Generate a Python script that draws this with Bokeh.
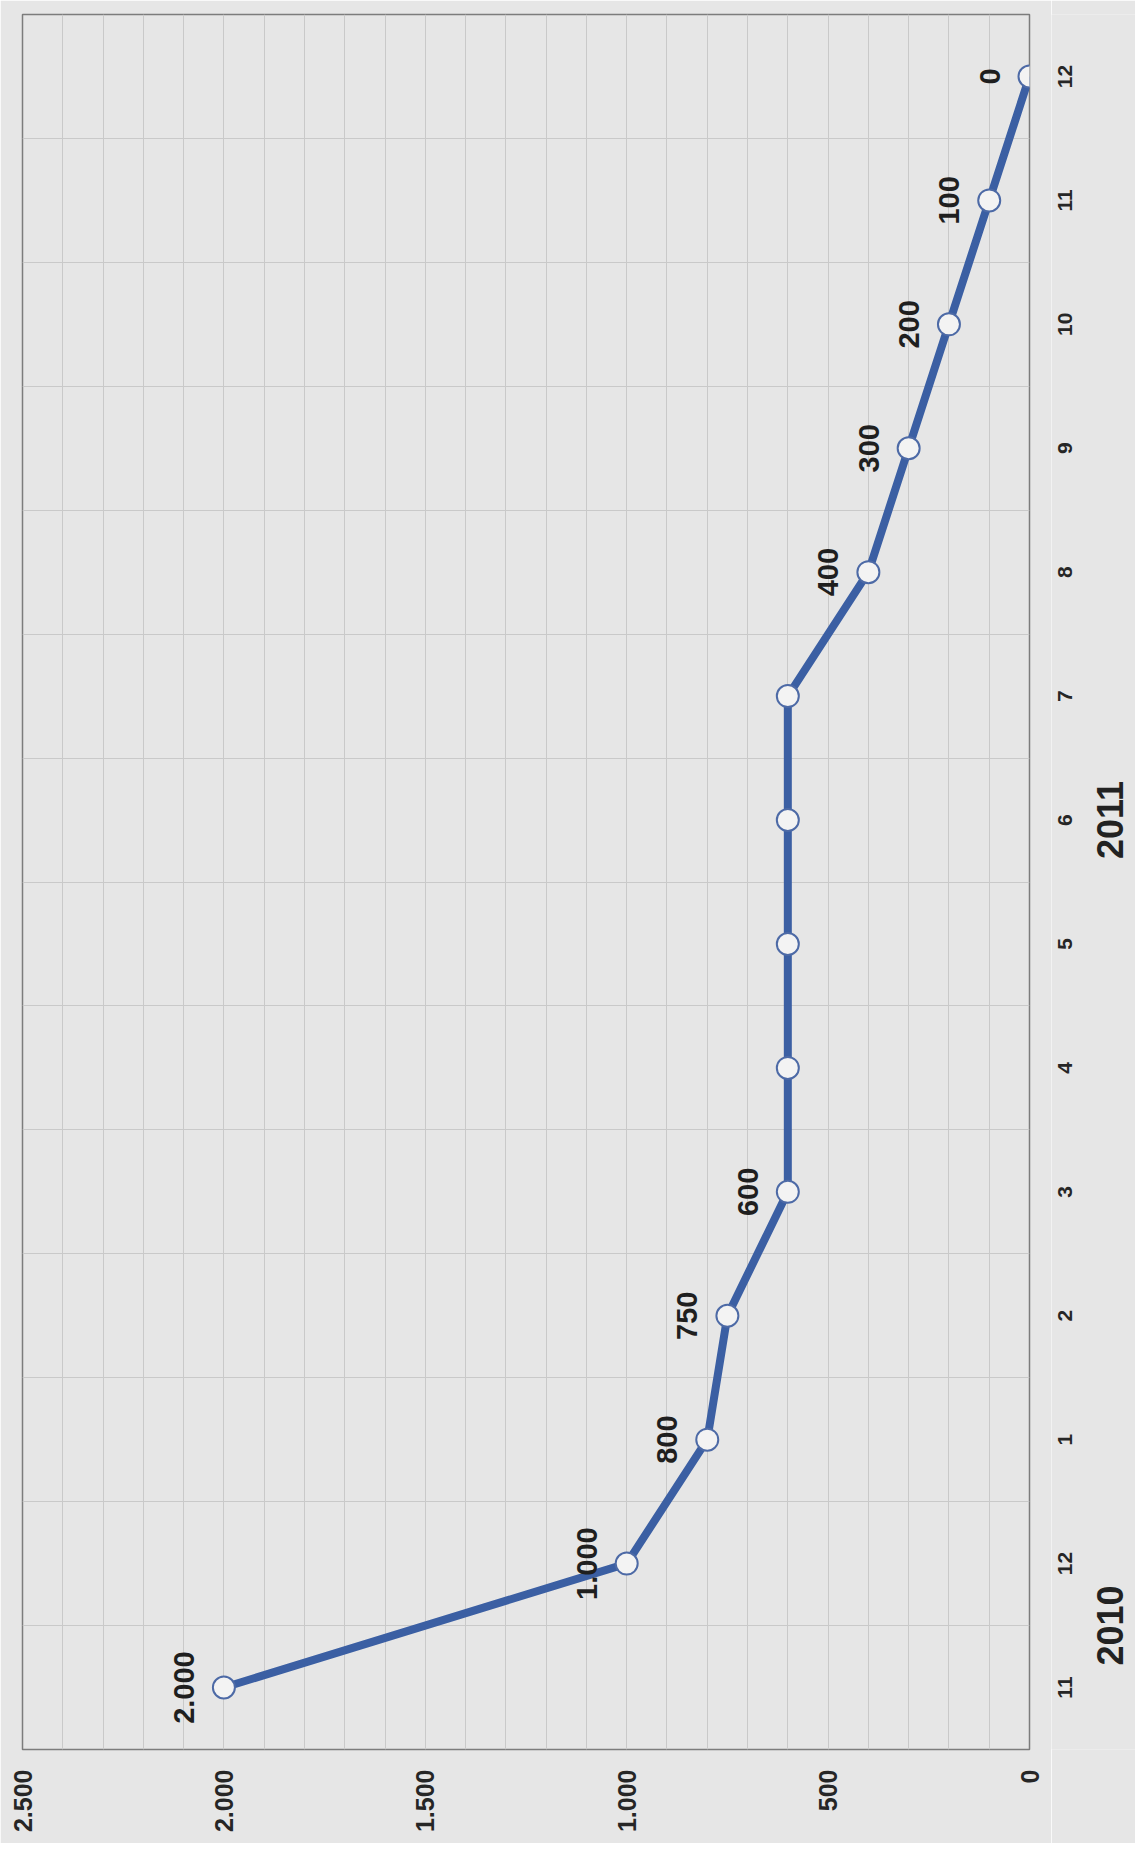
import math
from bokeh.plotting import figure
from bokeh.models import Range1d, FixedTicker, ColumnDataSource
from bokeh.layouts import row
from bokeh.embed import file_html
from bokeh.resources import INLINE
from bokeh.core.properties import value

# ---- data ----
months = ["11", "12", "1", "2", "3", "4", "5", "6", "7", "8", "9", "10", "11", "12"]
month_year = ["2010", "2010"] + ["2011"] * 12
values = [2000, 1000, 800, 750, 600, 600, 600, 600, 600, 400, 300, 200, 100, 0]
point_labels = ["2.000", "1.000", "800", "750", "600", "", "", "", "", "400", "300", "200", "100", "0"]
value_ticks = [0, 500, 1000, 1500, 2000, 2500]
value_tick_labels = ["0", "500", "1.000", "1.500", "2.000", "2.500"]
years = ["2010", "2011"]

idx = list(range(len(months)))

# year label anchors (2010: centre of its months; 2011: at month 6)
year_pos = []
for yname in years:
    ids = [i for i, yy in enumerate(month_year) if yy == yname]
    if len(ids) <= 2:
        year_pos.append((ids[0] + ids[-1]) / 2)
    else:
        year_pos.append(ids[len(ids) // 2 - 1])

src = ColumnDataSource(dict(v=values, i=idx, lab=point_labels))
month_src = ColumnDataSource(dict(i=idx, m=months))
year_src = ColumnDataSource(dict(i=year_pos, y=years))

BG = "#e6e6e6"
FONT = "Liberation Sans"
TOP, BOTTOM = 14, 94

p = figure(width=1051, height=1843, output_backend="svg", toolbar_location=None,
           x_range=Range1d(2500, 0), y_range=Range1d(-0.5, len(months) - 0.5),
           x_axis_location="below", y_axis_location=None,
           min_border_left=22, min_border_top=TOP, min_border_bottom=BOTTOM, min_border_right=22)

p.background_fill_color = BG
p.border_fill_color = BG
p.outline_line_color = "#7c7c7c"
p.outline_line_width = 1.5

# grids
p.xgrid.ticker = FixedTicker(ticks=list(range(0, 2501, 100)))
p.xgrid.grid_line_color = "#c9c9c9"
p.xgrid.grid_line_width = 1
p.ygrid.ticker = FixedTicker(ticks=[i + 0.5 for i in idx[:-1]])
p.ygrid.grid_line_color = "#c9c9c9"
p.ygrid.grid_line_width = 1

xa = p.xaxis[0]
xa.ticker = FixedTicker(ticks=value_ticks)
xa.major_label_overrides = {t: l for t, l in zip(value_ticks, value_tick_labels)}
xa.axis_line_color = None
xa.major_tick_line_color = None
xa.minor_tick_line_color = None
xa.major_tick_out = 0
xa.major_tick_in = 0
xa.minor_tick_out = 0
xa.major_label_orientation = math.pi / 2
xa.major_label_text_font = FONT
xa.major_label_text_font_size = "25px"
xa.major_label_text_font_style = "bold"
xa.major_label_text_color = "#262626"
xa.major_label_standoff = 20

# series
p.line(x="v", y="i", source=src, line_color="#3b5fa3", line_width=8, line_join="round")
p.scatter(x="v", y="i", source=src, size=22, fill_color="#f3f3f3",
          line_color="#4d6aa6", line_width=2)
p.text(x="v", y="i", text="lab", source=src, angle=math.pi / 2, x_offset=-40,
       text_align="center", text_baseline="middle", text_font=value(FONT),
       text_font_size="29px", text_font_style="bold", text_color="#1f1f1f")

# right-hand strip carrying the (rotated) month and year category labels
RW = 84
p2 = figure(width=RW, height=1843, output_backend="svg", toolbar_location=None,
            x_range=Range1d(0, RW), y_range=p.y_range,
            x_axis_location=None, y_axis_location=None,
            min_border_left=0, min_border_right=0, min_border_top=TOP, min_border_bottom=BOTTOM)
p2.background_fill_color = BG
p2.border_fill_color = BG
p2.outline_line_color = None
p2.grid.visible = False
p2.text(x=13, y="i", text="m", source=month_src, angle=math.pi / 2,
        text_align="center", text_baseline="middle", text_font=value(FONT),
        text_font_size="21px", text_font_style="bold", text_color="#262626")
p2.text(x=58, y="i", text="y", source=year_src, angle=math.pi / 2,
        text_align="center", text_baseline="middle", text_font=value(FONT),
        text_font_size="36px", text_font_style="bold", text_color="#222222")

layout = row(p, p2, spacing=0)
open("out.html", "w").write(file_html(layout, INLINE))
